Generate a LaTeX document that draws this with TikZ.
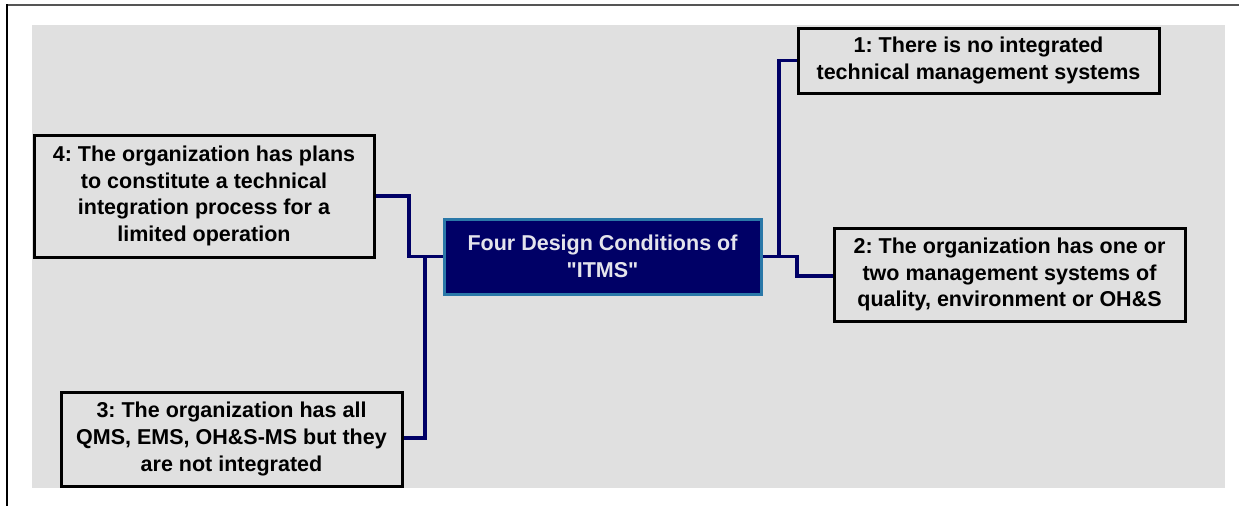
\documentclass[tikz,border=0pt]{standalone}
\usepackage{fontspec}
\setmainfont{Liberation Sans}[Ligatures=TeXOff]
\definecolor{bggray}{HTML}{E0E0E0}
\definecolor{navy}{HTML}{000066}
\definecolor{edgeblue}{HTML}{2A78A8}
\definecolor{txtlight}{HTML}{E4E4EC}
\definecolor{framegray}{HTML}{555555}
\tikzset{
  cond/.style={draw=black, line width=3pt, fill=bggray, inner sep=0pt, align=center,
    font=\fontsize{21.5}{26.7}\selectfont\bfseries\frenchspacing, text=black},
  centre/.style={draw=edgeblue, line width=3pt, fill=navy, inner sep=0pt, align=center,
    font=\fontsize{21.5}{26.7}\selectfont\bfseries\frenchspacing, text=txtlight,
    minimum width=317pt, minimum height=75pt},
  link/.style={draw=navy, line width=3.4pt, line join=miter}
}
\begin{document}
\begin{tikzpicture}[x=1pt,y=-1pt]
\useasboundingbox (0,0) rectangle (1239,506);
\fill[white] (0,0) rectangle (1239,506);
\fill[bggray] (32,25) rectangle (1225,488);
\draw[framegray, line width=2pt] (6,5) -- (1239,5);
\draw[black, line width=2pt] (6.5,4) -- (6.5,506);

\node[centre] (main) at (602.5,256.5) {Four Design Conditions of\\"ITMS"};
\node[cond, minimum width=361pt, minimum height=65pt] (b1) at (978.5,60.5)
  {1: There is no integrated\\technical management systems};
\node[cond, minimum width=351pt, minimum height=93pt] (b2) at (1009.5,274.5)
  {2: The organization has one or\\two management systems of\\quality, environment or OH\&S};
\node[cond, minimum width=341pt, minimum height=94pt] (b3) at (231.5,439)
  {3: The organization has all\\QMS, EMS, OH\&S-MS but they\\are not integrated};
\node[cond, minimum width=340pt, minimum height=122pt] (b4) at (204,196)
  {4: The organization has plans\\to constitute a technical\\integration process for a\\limited operation};

\coordinate (r1) at (779,256.5);
\coordinate (r2) at (797,256.5);
\coordinate (l1) at (409,256.5);
\coordinate (l2) at (425,256.5);

\draw[link] (main.east) -- (r1) |- (b1.west);
\draw[link] (r1) -- (r2) |- ([yshift=-1.5pt]b2.west);
\draw[link] (main.west) -- (l1) |- (b4.east);
\draw[link] (l2) |- ([yshift=1pt]b3.east);
\end{tikzpicture}
\end{document}
